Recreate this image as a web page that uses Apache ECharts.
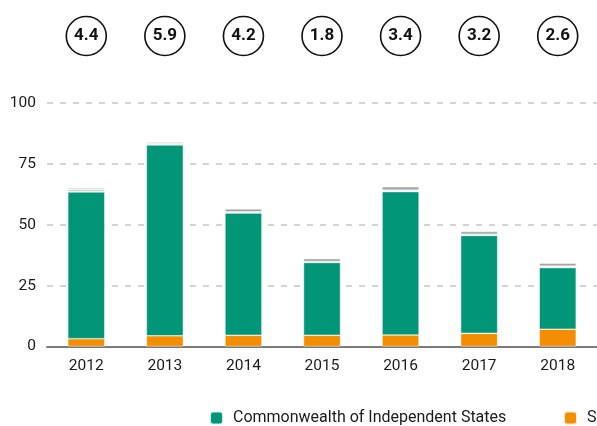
<!DOCTYPE html>
<html>
<head>
<meta charset="utf-8">
<script src="https://cdn.jsdelivr.net/npm/echarts@6/dist/echarts.min.js"></script>
<style>
  html, body { margin: 0; padding: 0; background: #fff; }
  #chart { width: 597px; height: 426px; }
</style>
</head>
<body>
<div id="chart"></div>
<script>
// Years on the category axis
const years = ['2012', '2013', '2014', '2015', '2016', '2017', '2018'];

// Stacked segments, bottom to top
const southEastEurope = [3.2, 4.4, 4.6, 4.6, 4.7, 5.4, 7.1];
const cis = [60.3, 78.4, 50.2, 29.9, 58.9, 40.2, 25.3];
const otherLight = [1.1, 0.5, 0.5, 0.4, 0.6, 0.5, 0.6];
const otherDark = [0.5, 0.6, 1.2, 1.2, 1.4, 1.1, 1.2];

// Growth figures shown in the circles above each year
const growth = [4.4, 5.9, 4.2, 1.8, 3.4, 3.2, 2.6];

// Value-axis ticks
const yTicks = [0, 25, 50, 75, 100];

const FONT = 'Roboto, "Liberation Sans", sans-serif';
const GREEN = '#009677';
const ORANGE = '#f28e00';
const GREY_LIGHT = '#d2d2d2';
const GREY_DARK = '#a3a3a3';

const chart = echarts.init(document.getElementById('chart'), null, { renderer: 'canvas' });

const barStyle = (color) => ({ color: color, borderColor: 'rgba(255,255,255,0.8)', borderWidth: 0.6 });

const legendBase = {
  top: 410,
  padding: 0,
  itemWidth: 13,
  itemHeight: 13,
  itemGap: 10,
  icon: 'roundRect',
  textStyle: { color: '#1a1a1a', fontSize: 16, fontFamily: FONT, padding: [0, 0, 0, 5] }
};

chart.setOption({
  animation: false,
  textStyle: { fontFamily: FONT },
  grid: [
    { left: 47, right: 0, top: 103, height: 243.5 },
    { left: 47, right: 0, top: 16, height: 40 }
  ],
  xAxis: [
    {
      gridIndex: 0,
      type: 'category',
      data: years,
      boundaryGap: true,
      axisLine: { show: true, lineStyle: { color: '#7a7a7a', width: 2 } },
      axisTick: { show: false },
      axisLabel: { color: '#1a1a1a', fontSize: 15.5, fontFamily: FONT, margin: 12 }
    },
    {
      gridIndex: 1,
      type: 'category',
      data: years,
      show: false
    }
  ],
  yAxis: [
    {
      gridIndex: 0,
      type: 'value',
      min: yTicks[0],
      max: yTicks[yTicks.length - 1],
      interval: 25,
      axisLine: { show: false },
      axisTick: { show: false },
      axisLabel: { color: '#1a1a1a', fontSize: 15.5, fontFamily: FONT, margin: 11 },
      splitLine: { show: true, lineStyle: { color: '#c6c6c6', width: 1.5, type: [6, 7] } }
    },
    {
      gridIndex: 1,
      type: 'value',
      min: -1,
      max: 1,
      show: false
    }
  ],
  legend: [
    Object.assign({ left: 209, data: ['Commonwealth of Independent States'] }, legendBase),
    Object.assign({ left: 563, data: ['South-East Europe'] }, legendBase)
  ],
  series: [
    {
      name: 'South-East Europe', type: 'bar', stack: 'total', barWidth: 37,
      xAxisIndex: 0, yAxisIndex: 0,
      itemStyle: barStyle(ORANGE), data: southEastEurope
    },
    {
      name: 'Commonwealth of Independent States', type: 'bar', stack: 'total', barWidth: 37,
      xAxisIndex: 0, yAxisIndex: 0,
      itemStyle: barStyle(GREEN), data: cis
    },
    {
      name: 'Other light', type: 'bar', stack: 'total', barWidth: 37,
      xAxisIndex: 0, yAxisIndex: 0,
      itemStyle: barStyle(GREY_LIGHT), data: otherLight
    },
    {
      name: 'Other dark', type: 'bar', stack: 'total', barWidth: 37,
      xAxisIndex: 0, yAxisIndex: 0,
      itemStyle: barStyle(GREY_DARK), data: otherDark
    },
    {
      name: 'Growth', type: 'scatter',
      xAxisIndex: 1, yAxisIndex: 1,
      symbol: 'circle', symbolSize: [40, 39],
      itemStyle: { color: '#fff', borderColor: '#111', borderWidth: 1.6, opacity: 1 },
      label: {
        show: true, position: 'inside',
        formatter: (p) => p.value[2].toFixed(1),
        color: '#111', fontSize: 17, fontWeight: 'bold', fontFamily: FONT
      },
      data: years.map((y, i) => [y, 0, growth[i]])
    }
  ]
});
</script>
</body>
</html>
